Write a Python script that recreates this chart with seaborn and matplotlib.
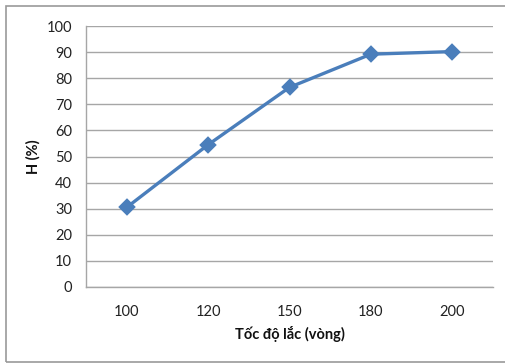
import matplotlib
matplotlib.use("Agg")
import matplotlib.pyplot as plt
import seaborn as sns
import pandas as pd
from matplotlib.patches import Rectangle

speeds = ["100", "120", "150", "180", "200"]
H = [30.5, 54.5, 76.5, 89.2, 90.2]
yticks = [0, 10, 20, 30, 40, 50, 60, 70, 80, 90, 100]

sns.set_style("white")
plt.rcParams['font.family'] = ['Lato', 'DejaVu Sans']

df = pd.DataFrame({"speed": speeds, "H": H})

fig = plt.figure(figsize=(5.06, 3.64), dpi=100)
W, Hh = 506, 364
ax = fig.add_axes([86 / W, 1 - 287 / Hh, (493 - 86) / W, (287 - 26) / Hh])

sns.pointplot(data=df, x="speed", y="H", order=speeds, ax=ax, color="#4a7ebb",
              markers="D", markersize=7, linewidth=2.4, errorbar=None)

ax.set_xlim(-0.5, 4.5)
ax.set_ylim(0, 100)
ax.set_yticks(yticks)
ax.yaxis.grid(True, color="#a6a6a6", linewidth=1)
ax.set_axisbelow(True)
for s in ["top", "right"]:
    ax.spines[s].set_visible(False)
for s in ["left", "bottom"]:
    ax.spines[s].set_color("#a6a6a6")
    ax.spines[s].set_linewidth(1)
ax.tick_params(axis="both", length=0, labelsize=10.5, colors="#222222", pad=10)
ax.tick_params(axis="x", pad=13)
ax.set_xlabel("Tốc độ lắc (vòng)", fontsize=10.5, fontweight="bold", labelpad=5,
              color="#111111")
ax.set_ylabel("H (%)", fontsize=10.5, fontweight="bold", labelpad=4,
              color="#111111")

fig.patches.append(Rectangle((6 / W, 1 - 362 / Hh), 1.0, (362 - 6) / Hh,
                             transform=fig.transFigure, fill=False,
                             edgecolor="#9a9a9a", linewidth=1.2))

fig.savefig("out.png", dpi=100)
